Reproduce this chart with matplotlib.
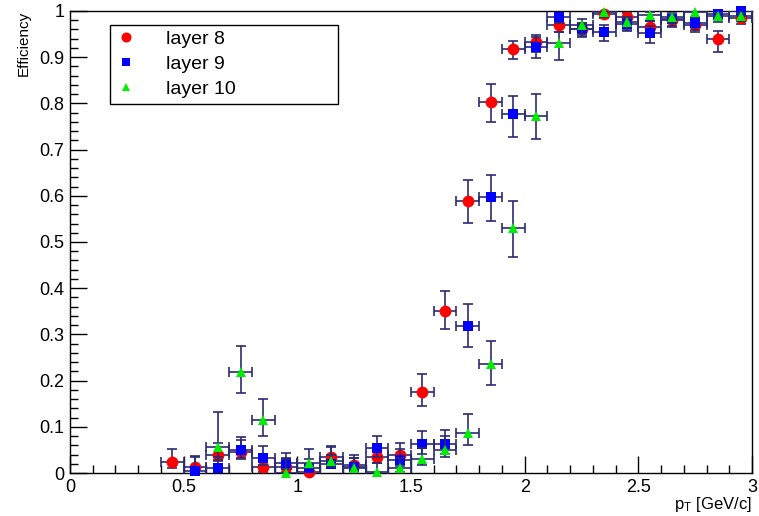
import numpy as np
import matplotlib
matplotlib.use("Agg")
import matplotlib.pyplot as plt
from matplotlib.ticker import MultipleLocator

plt.rcParams['font.family'] = ['Liberation Sans', 'DejaVu Sans']
plt.rcParams['mathtext.default'] = 'regular'

# bin centres (bin width 0.1 GeV/c)
x_l8 = [0.45, 0.55, 0.65, 0.75, 0.85, 0.95, 1.05, 1.15, 1.25, 1.35, 1.45, 1.55, 1.65,
        1.75, 1.85, 1.95, 2.05, 2.15, 2.25, 2.35, 2.45, 2.55, 2.65, 2.75, 2.85, 2.95]
eff_l8 = [0.024, 0.013, 0.040, 0.045, 0.013, 0.012, 0.003, 0.035, 0.018, 0.035, 0.040,
          0.176, 0.351, 0.589, 0.803, 0.918, 0.932, 0.970, 0.962, 0.994, 0.988, 0.966,
          0.980, 0.970, 0.940, 0.984]
lo_l8 = [0.014, 0.010, 0.015, 0.015, 0.010, 0.010, 0.003, 0.014, 0.010, 0.014, 0.014,
         0.031, 0.040, 0.048, 0.043, 0.022, 0.020, 0.015, 0.016, 0.010, 0.012, 0.018,
         0.014, 0.015, 0.028, 0.013]
hi_l8 = [0.028, 0.022, 0.025, 0.026, 0.020, 0.020, 0.016, 0.024, 0.020, 0.024, 0.025,
         0.038, 0.044, 0.045, 0.038, 0.018, 0.017, 0.012, 0.012, 0.005, 0.008, 0.013,
         0.010, 0.012, 0.017, 0.009]

x_l9 = x_l8[1:]
eff_l9 = [0.004, 0.010, 0.050, 0.032, 0.021, 0.011, 0.020, 0.013, 0.054, 0.029, 0.063,
          0.063, 0.318, 0.598, 0.776, 0.923, 0.986, 0.962, 0.955, 0.972, 0.952, 0.982,
          0.975, 0.993, 1.000]
lo_l9 = [0.001, 0.008, 0.018, 0.014, 0.012, 0.008, 0.010, 0.008, 0.020, 0.014, 0.022,
         0.022, 0.046, 0.053, 0.049, 0.025, 0.012, 0.018, 0.020, 0.016, 0.022, 0.014,
         0.016, 0.010, 0.008]
hi_l9 = [0.033, 0.025, 0.028, 0.026, 0.022, 0.020, 0.020, 0.020, 0.027, 0.024, 0.028,
         0.030, 0.048, 0.048, 0.041, 0.020, 0.008, 0.012, 0.015, 0.011, 0.016, 0.008,
         0.010, 0.005, 0.000]

x_l10 = x_l8[2:]
eff_l10 = [0.056, 0.218, 0.115, 0.000, 0.022, 0.026, 0.011, 0.002, 0.011, 0.030, 0.050,
           0.087, 0.235, 0.530, 0.773, 0.931, 0.970, 0.997, 0.977, 0.991, 0.988, 0.997,
           0.989, 0.990]
lo_l10 = [0.028, 0.045, 0.034, 0.000, 0.012, 0.012, 0.008, 0.002, 0.008, 0.012, 0.016,
          0.027, 0.045, 0.062, 0.050, 0.036, 0.020, 0.010, 0.018, 0.012, 0.014, 0.010,
          0.012, 0.012]
hi_l10 = [0.076, 0.057, 0.045, 0.030, 0.030, 0.030, 0.022, 0.020, 0.022, 0.025, 0.030,
          0.041, 0.051, 0.059, 0.047, 0.024, 0.012, 0.003, 0.010, 0.006, 0.007, 0.003,
          0.006, 0.006]

x_ticks = [0, 0.5, 1, 1.5, 2, 2.5, 3]
y_ticks = [0, 0.1, 0.2, 0.3, 0.4, 0.5, 0.6, 0.7, 0.8, 0.9, 1]

half_bin = 0.05
err_color = '#2b2b73'

W, H = 759, 516
fig = plt.figure(figsize=(W / 100, H / 100), dpi=100)
ax = fig.add_axes([70 / W, 1 - 473 / H, 682 / W, 462 / H])

series = [
    ("layer 8", x_l8, eff_l8, lo_l8, hi_l8, 'o', '#ff0000', 8.5),
    ("layer 9", x_l9, eff_l9, lo_l9, hi_l9, 's', '#0000ff', 7.5),
    ("layer 10", x_l10, eff_l10, lo_l10, hi_l10, '^', '#00ee00', 7.5),
]

handles = []
for i, (name, xs, ys, lo, hi, mk, col, ms) in enumerate(series):
    xs = np.asarray(xs)
    ys = np.asarray(ys)
    ax.errorbar(xs, ys, xerr=half_bin, yerr=[lo, hi], fmt='none',
                ecolor=err_color, elinewidth=1.2, capsize=3.5, capthick=1.2,
                zorder=3 + 2 * i)
    h, = ax.plot(xs, ys, linestyle='none', marker=mk, color=col, markersize=ms,
                 markeredgewidth=0, zorder=4 + 2 * i, clip_on=False)
    handles.append(h)

ax.set_xlim(0, 3)
ax.set_ylim(0, 1)

ax.set_xticks(x_ticks)
ax.set_xticklabels([f"{v:g}" for v in x_ticks])
ax.set_yticks(y_ticks)
ax.set_yticklabels([f"{v:g}" for v in y_ticks])
ax.xaxis.set_minor_locator(MultipleLocator(0.1))
ax.yaxis.set_minor_locator(MultipleLocator(0.02))

ax.tick_params(which='both', direction='in', top=False, right=False,
               labelsize=13, colors='black')
ax.tick_params(axis='x', which='major', length=12, width=1, pad=4)
ax.tick_params(axis='x', which='minor', length=6, width=1)
ax.tick_params(axis='y', which='major', length=12, width=1, pad=4)
ax.tick_params(axis='y', which='minor', length=6, width=1)
for sp in ax.spines.values():
    sp.set_linewidth(1.0)
    sp.set_color('black')

# axis titles, ROOT style: x title right-aligned just under the tick labels
fig.text(752 / W, 1 - 504 / H, r"p$_{T}$ [GeV/c]", ha='right', va='center',
         fontsize=12)
ax.set_ylabel("Efficiency", loc='top', fontsize=11, labelpad=6)

leg = ax.legend(handles, [s[0] for s in series],
                loc='upper left', bbox_to_anchor=(0.0587, 0.970, 0.334, 0.0),
                mode='expand', borderaxespad=0, fancybox=False, framealpha=1,
                edgecolor='black', fontsize=14, handlelength=1.0,
                handletextpad=1.6, labelspacing=0.38, borderpad=0.3,
                markerscale=0.85)
leg.get_frame().set_linewidth(1.0)

fig.savefig("out.png", dpi=100)
